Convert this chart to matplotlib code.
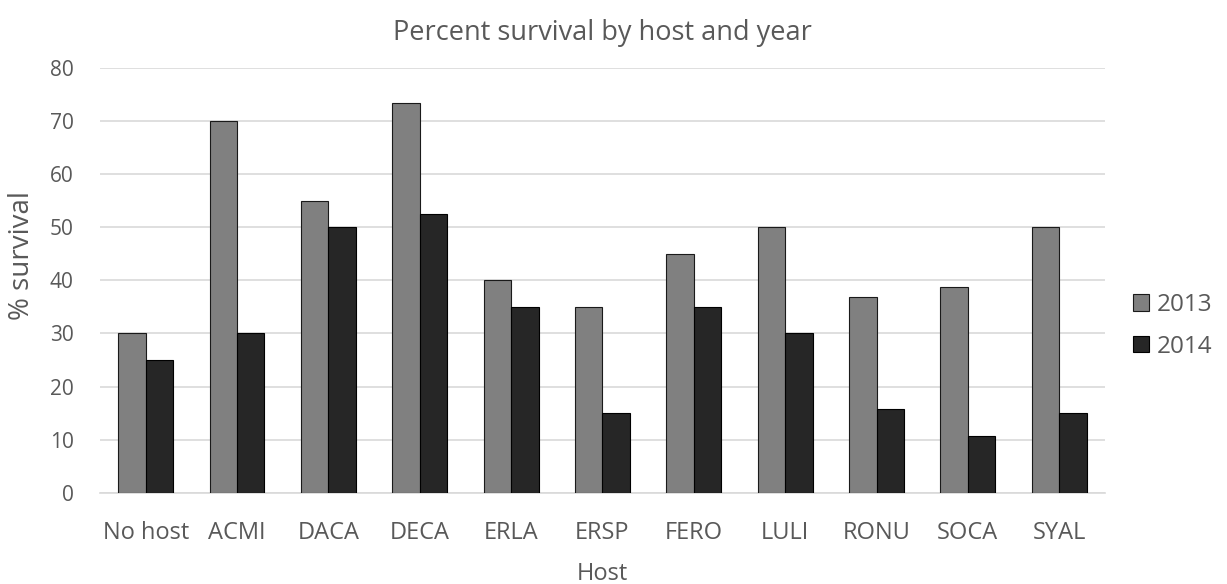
import matplotlib
matplotlib.use('Agg')
import matplotlib.pyplot as plt
import numpy as np

plt.rcParams['font.family'] = ['Open Sans', 'DejaVu Sans']

hosts = ['No host', 'ACMI', 'DACA', 'DECA', 'ERLA', 'ERSP', 'FERO', 'LULI', 'RONU', 'SOCA', 'SYAL']
surv_2013 = [30, 70, 55, 73.4, 40, 35, 45, 50, 36.8, 38.8, 50]
surv_2014 = [25, 30, 50, 52.5, 35, 15, 35, 30, 15.8, 10.8, 15]
years = ['2013', '2014']

txt = '#595959'

fig = plt.figure(figsize=(12.27, 5.84), dpi=100)
ax = fig.add_axes([0.0815, 0.156, 0.819, 0.728])

x = np.arange(len(hosts))
w = 0.3
ax.bar(x - w / 2, surv_2013, w, color='#808080', edgecolor='#1a1a1a', linewidth=0.8, label=years[0], zorder=3)
ax.bar(x + w / 2, surv_2014, w, color='#262626', edgecolor='#000000', linewidth=0.8, label=years[1], zorder=3)

ax.set_xlim(-0.5, len(hosts) - 0.5)
ax.set_ylim(0, 80)
ax.set_yticks(np.arange(0, 81, 10))
ax.set_xticks(x)
ax.set_xticklabels(hosts)
ax.yaxis.grid(True, color='#d9d9d9', linewidth=1.2, zorder=0)
ax.set_axisbelow(True)
for s in ['top', 'right', 'left']:
    ax.spines[s].set_visible(False)
ax.spines['bottom'].set_color('#d9d9d9')
ax.spines['bottom'].set_linewidth(1.2)
ax.tick_params(axis='x', length=0, labelsize=17, labelcolor=txt, pad=20.5)
ax.tick_params(axis='y', length=0, labelsize=15, labelcolor=txt, pad=19)

ax.set_xlabel('Host', fontsize=17, color=txt, labelpad=12)
ax.set_ylabel('% survival', fontsize=20, color=txt)
ax.yaxis.set_label_coords(-0.064, 0.558)
ax.set_title('Percent survival by host and year', fontsize=19.5, color=txt, pad=20)

ax.legend(loc='center left', bbox_to_anchor=(1.028, 0.393), frameon=False,
          borderaxespad=0, borderpad=0,
          fontsize=17.5, labelcolor=txt, handlelength=0.66, handleheight=0.66,
          labelspacing=0.73, handletextpad=0.3)

fig.savefig('out.png', dpi=100)
